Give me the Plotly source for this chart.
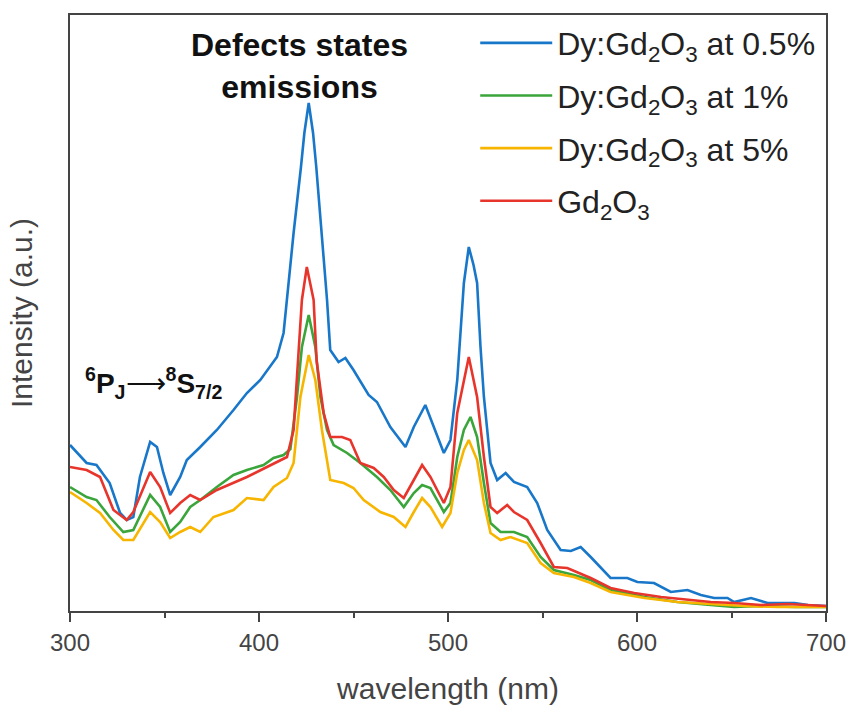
import plotly.graph_objects as go

# ---------------- data ----------------
wl_dy05 = [300, 308.8, 314, 321, 326.5, 330, 333.5, 337, 342.4, 346, 349.4, 353, 358.3, 361.8,
           368.9, 377.7, 386.5, 393.6, 400.7, 409.5, 413, 418.3, 422.2, 424, 426.3, 428.6, 430.3,
           433.3, 436, 437.7, 442.1, 445.7, 450, 458, 462.4, 469.5, 477.5, 481.9, 488, 492.5,
           497.8, 501.3, 504.9, 508.4, 511, 513.5, 515.4, 517.2, 519, 522.5, 526, 530.5, 534.9,
           541.9, 547.2, 552.5, 559.6, 565, 570.2, 575.5, 586, 594.9, 600.2, 609, 617.9, 626.7,
           633.8, 640.8, 647.9, 651.4, 660.3, 669.1, 683.3, 690.4, 700]
int_dy05 = [166, 148, 146, 128, 98, 91, 94, 134, 169, 164, 138, 116, 134, 151,
            164, 181, 201, 218, 231, 254, 278, 378, 444, 478, 508, 478, 444,
            378, 311, 261, 249, 253, 241, 216, 209, 184, 164, 184, 206, 184,
            158, 171, 231, 328, 364, 346, 328, 264, 214, 148, 131, 138, 129,
            124, 108, 81, 61, 60, 64, 54, 33, 33, 29, 28, 19, 21,
            16, 13, 13, 9, 13, 8, 8, 6, 5]

wl_dy1 = [300, 308.8, 314, 321, 328.2, 333.5, 342.4, 347.7, 353, 358.3, 363.6, 368.9, 377.7,
          386.5, 393.6, 402.4, 407.7, 413, 416.6, 420.1, 422.7, 426.3, 429.8, 432.5, 436, 439.5,
          446.6, 453.6, 462.4, 469.5, 476.6, 481.9, 486.3, 490.7, 497.8, 501.3, 504.9, 508.4,
          511.9, 515.4, 519, 522.5, 527.8, 534.9, 541.9, 549, 556, 566.6, 575.5, 586, 604,
          621.4, 639, 651.4, 665.6, 683.3, 700]
int_dy1 = [124, 114, 111, 94, 79, 81, 116, 104, 79, 89, 104, 111, 124,
           136, 141, 146, 153, 156, 162, 214, 264, 296, 264, 214, 181, 166,
           158, 148, 134, 121, 104, 118, 126, 123, 99, 108, 154, 181,
           194, 174, 128, 88, 79, 79, 74, 54, 41, 36, 31, 21, 14,
           9, 6, 4, 5, 4, 4]

wl_dy5 = [300, 308.8, 315.9, 323, 328.2, 333.5, 342.4, 347.7, 353, 358.3, 363.6, 368.9, 375.9,
          386.5, 393.6, 402.4, 407.7, 414.8, 418.3, 421.9, 426.3, 429.8, 433.3, 437.7, 444.8,
          450, 455.4, 464.2, 471.3, 477.5, 481.9, 486.3, 490.7, 496.9, 501.3, 504.9, 508.4,
          511, 515.4, 519, 522.5, 527.8, 533.1, 541.9, 549, 556, 566.6, 575.5, 586, 604,
          621.4, 639, 656.7, 674.4, 700]
int_dy5 = [119, 108, 98, 81, 71, 71, 99, 89, 73, 79, 84, 79, 94,
           101, 113, 111, 124, 133, 148, 214, 256, 231, 181, 131, 128,
           123, 111, 99, 94, 84, 99, 113, 104, 84, 98, 138, 161,
           171, 151, 108, 78, 71, 74, 68, 48, 38, 34, 28, 19, 13,
           9, 7, 5, 4, 4]

wl_gd = [300, 308.8, 315.9, 323, 330, 333.5, 342.4, 347.7, 353, 358.3, 363.6, 368.9, 377.7,
         386.5, 393.6, 404.2, 411.3, 414.8, 418.3, 421, 422.7, 425.3, 428.9, 430.5, 434.2,
         437.7, 443.9, 448.3, 453.6, 460.7, 466, 471.3, 476.6, 481.9, 486.3, 490.7, 497.8,
         501.3, 504.9, 511, 515.4, 519, 522.5, 526, 531.3, 534.9, 541.9, 549, 556, 563.1,
         568.4, 575.5, 586, 598.5, 612.7, 626.7, 639, 651.4, 665.6, 679.7, 700]
int_gd = [144, 141, 134, 101, 91, 99, 139, 124, 98, 108, 116, 111, 121,
          128, 134, 144, 151, 154, 181, 264, 311, 344, 311, 250, 198,
          174, 174, 171, 148, 143, 134, 121, 113, 131, 146, 134, 108,
          124, 198, 254, 214, 154, 104, 98, 106, 99, 91, 68, 44, 43,
          39, 33, 23, 18, 14, 11, 9, 8, 6, 7, 5]

series_names = ["Dy:Gd<sub>2</sub>O<sub>3</sub> at 0.5%",
                "Dy:Gd<sub>2</sub>O<sub>3</sub> at 1%",
                "Dy:Gd<sub>2</sub>O<sub>3</sub> at 5%",
                "Gd<sub>2</sub>O<sub>3</sub>"]
series_x = [wl_dy05, wl_dy1, wl_dy5, wl_gd]
series_y = [int_dy05, int_dy1, int_dy5, int_gd]
colors = ["#1877C9", "#3AA53A", "#F7B500", "#E8352C"]

x_ticks = [300, 400, 500, 600, 700]

# ---------------- figure ----------------
fig = go.Figure()
for i, (name, xs, ys, c) in enumerate(zip(series_names, series_x, series_y, colors)):
    fig.add_trace(go.Scatter(x=xs, y=ys, mode="lines", name=name,
                             legendgroup=f"g{i}",
                             line=dict(color=c, width=2.6, shape="linear")))

axis_col = "#444444"
fig.update_layout(
    width=847, height=705,
    margin=dict(l=70, r=21, t=15, b=94),
    paper_bgcolor="white", plot_bgcolor="white",
    font=dict(family="Arial, Liberation Sans, sans-serif", color="#333333"),
    showlegend=True,
    legend=dict(x=0.536, y=0.999, xanchor="left", yanchor="top",
                font=dict(size=32, color="#222222", family="Arial, Liberation Sans, sans-serif"),
                bgcolor="rgba(0,0,0,0)", borderwidth=0,
                tracegroupgap=8, itemwidth=72),
    xaxis=dict(range=[300, 700], tickvals=x_ticks, ticktext=[str(t) for t in x_ticks],
               ticks="outside", ticklen=9, tickwidth=2, tickcolor=axis_col,
               minor=dict(dtick=50, tick0=300, ticks="outside", ticklen=5, tickwidth=2, tickcolor=axis_col),
               showline=True, linewidth=2, linecolor=axis_col, mirror=True,
               showgrid=False, zeroline=False, automargin=False,
               tickfont=dict(size=24, color="#444444"),
               title=dict(text="wavelength (nm)", font=dict(size=30, color="#444444"), standoff=23)),
    yaxis=dict(range=[0, 596], showticklabels=False, ticks="",
               showline=True, linewidth=2, linecolor=axis_col, mirror=True,
               showgrid=False, zeroline=False, automargin=False,
               title=dict(text="Intensity (a.u.)", font=dict(size=30, color="#444444"), standoff=27)),
)

fig.add_annotation(text="<b>Defects states</b><br><b>emissions</b>",
                   xref="paper", yref="paper", x=0.304, y=0.914,
                   xanchor="center", yanchor="middle", showarrow=False,
                   font=dict(size=32, color="#111111"))
fig.add_annotation(text="<b><sup>6</sup>P<sub>J</sub></b>⟶<b><sup>8</sup>S<sub>7/2</sub></b>",
                   xref="paper", yref="paper", x=0.111, y=0.383,
                   xanchor="center", yanchor="middle", showarrow=False,
                   font=dict(size=28, color="#111111"))

fig.write_html("out.html", config={"displayModeBar": False},
               post_script="document.body.style.margin='0px';")
